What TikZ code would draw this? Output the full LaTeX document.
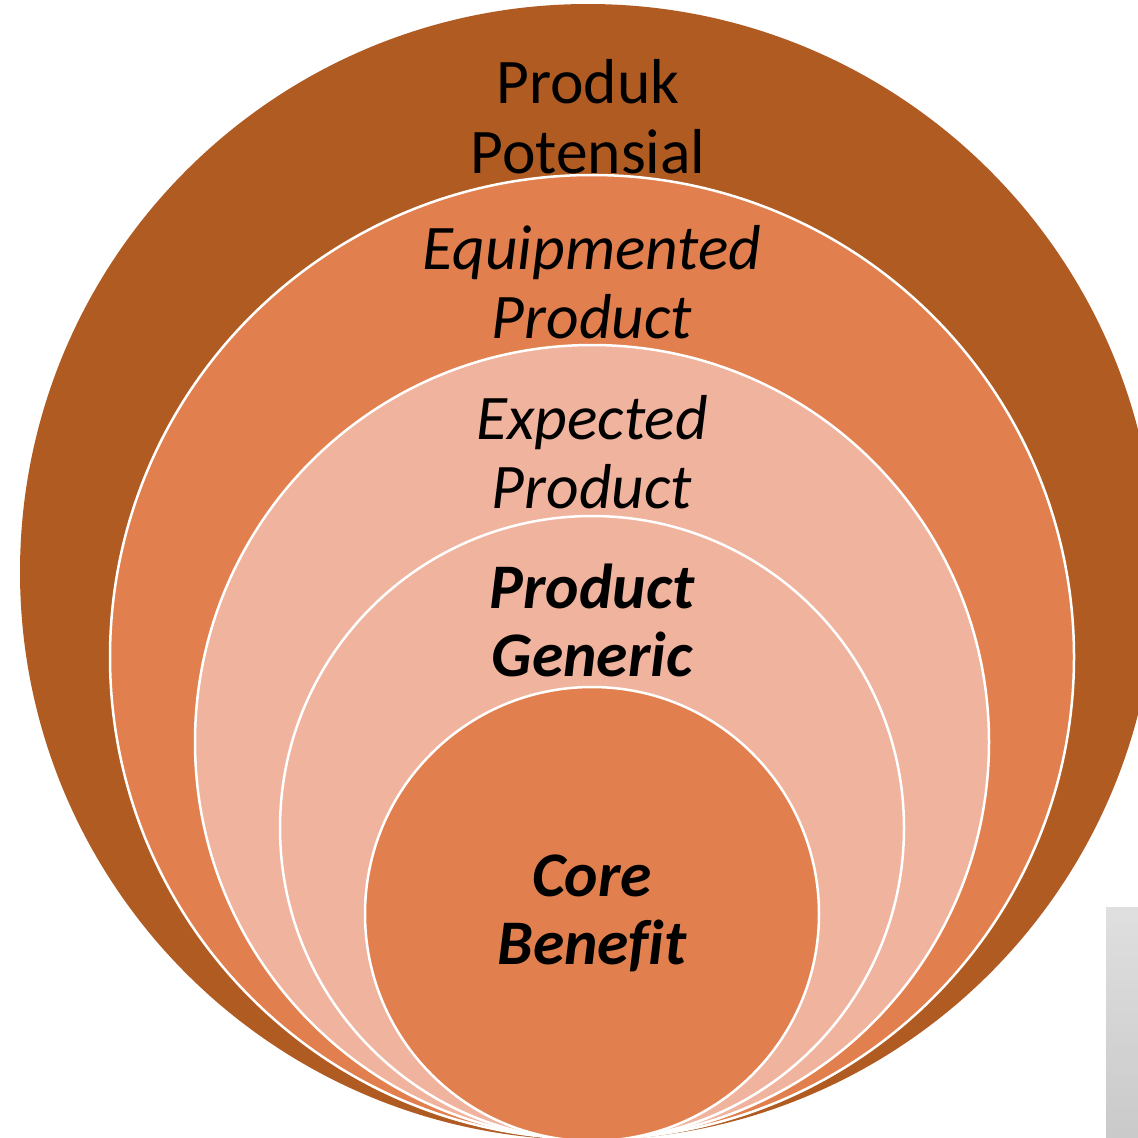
\documentclass[tikz,border=0pt]{standalone}
\usepackage{fontspec}
\setmainfont{Carlito}[Ligatures=CommonOff]
\definecolor{ringbrown}{RGB}{175,91,34}
\definecolor{ringorange}{RGB}{225,128,78}
\definecolor{ringsalmon}{RGB}{240,179,157}
\begin{document}
\begin{tikzpicture}[x=1pt,y=-1pt,
  ring/.style={draw=white,line width=2.5pt},
  lbl/.style={anchor=base,inner sep=0pt,font=\fontsize{63.5}{70}\selectfont,text=black},
  lit/.style={lbl,font=\fontsize{63.5}{70}\selectfont\itshape},
  lbi/.style={lbl,font=\fontsize{63.5}{70}\selectfont\bfseries\itshape}]
\useasboundingbox (0,0) rectangle (1138,1138);
\clip (0,0) rectangle (1138,1138);
\fill[ringbrown] (588,572) circle (568);
\filldraw[ring,fill=ringorange] (592,657) circle (482);
\filldraw[ring,fill=ringsalmon] (592,742) circle (397);
\filldraw[ring,fill=ringsalmon] (592,828) circle (312);
\filldraw[ring,fill=ringorange] (592,914) circle (227);
\shade[top color=gray!25!white, bottom color=gray!42!white] (1106,907) rectangle (1140,1140);
\node[lbl] (pp1) at (588,103) {Produk};
\node[lbl] (pp2) at (588,173) {Potensial};
\node[lit] (ep1) at (592,269) {Equipmented};
\node[lit] (ep2) at (592,338) {Product};
\node[lit] (xp1) at (592,439) {Expected};
\node[lit] (xp2) at (592,508) {Product};
\node[lbi] (pg1) at (592,608) {Product};
\node[lbi] (pg2) at (592,676) {Generic};
\node[lbi] (cb1) at (592,896) {Core};
\node[lbi] (cb2) at (592,964) {Benefit};
\end{tikzpicture}
\end{document}
